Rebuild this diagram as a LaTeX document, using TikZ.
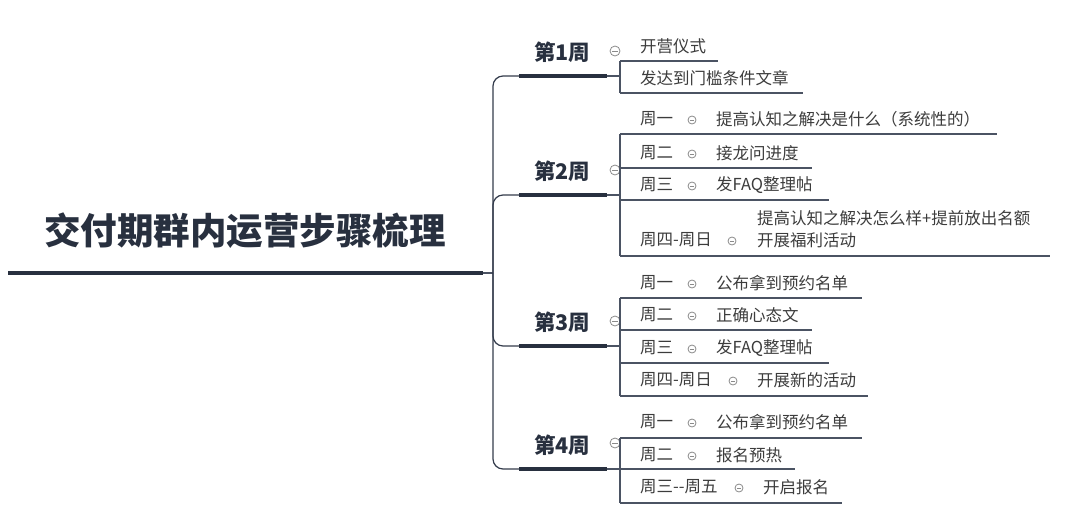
\documentclass[tikz,border=0pt]{standalone}
\usepackage{fontspec}
\newfontfamily\cjk{Noto Sans CJK SC}
\definecolor{navy}{HTML}{28303F}
\definecolor{linec}{HTML}{4B5363}
\definecolor{spinec}{HTML}{343C4C}
\definecolor{txtc}{HTML}{3C3C3C}
\definecolor{btnc}{HTML}{8A8A8A}
\tikzset{
  rootline/.style={line width=4pt, navy},
  weekline/.style={line width=3.3pt, navy},
  conn/.style={line width=1.1pt, linec},
  spine/.style={line width=1.2pt, spinec, rounded corners=10pt},
  rowline/.style={line width=1.1pt, linec},
  roottext/.style={anchor=center, inner sep=0pt, text=navy, font=\cjk\bfseries\fontsize{36.5}{40}\selectfont},
  weektext/.style={anchor=west, inner sep=0pt, text=navy, font=\cjk\bfseries\fontsize{21.5}{26}\selectfont},
  rowtext/.style={anchor=west, inner sep=0pt, text=txtc, font=\cjk\fontsize{16.5}{22}\selectfont},
  btn/.style={circle, draw=btnc, line width=0.8pt, inner sep=0pt, minimum size=#1, fill=white,
    path picture={\draw[btnc, line width=0.8pt] ([xshift=-0.28*#1]path picture bounding box.center) -- ([xshift=0.28*#1]path picture bounding box.center);}},
  btn/.default=8pt
}
\begin{document}
\begin{tikzpicture}[x=1pt,y=-1pt]
\useasboundingbox (0,0) rectangle (1080,525);
% root
\node[roottext] (root) at (245,231) {交付期群内运营步骤梳理};
\coordinate (rootL) at (8,273);
\coordinate (rootR) at (483,273);
\coordinate (hub) at (493,273);
\draw[rootline] (rootL) -- (rootR);
\draw[conn] (rootR) -- (hub);

% weeks
\foreach \i/\y in {1/76,2/195,3/346,4/469}{
  \coordinate (w\i L) at (519,\y);
  \coordinate (w\i R) at (607,\y);
  \coordinate (s\i) at (620,\y);
}
\foreach \i in {1,2,3,4}{
  \draw[spine] (hub) |- (w\i L);
  \draw[weekline] (w\i L) -- (w\i R);
  \draw[conn] (w\i R) -- (s\i);
}
\node[weektext] (t1) at (534,52) {第1周};
\node[weektext] (t2) at (534,171) {第2周};
\node[weektext] (t3) at (534,322) {第3周};
\node[weektext] (t4) at (534,445) {第4周};

% week 1 children
\coordinate (a1L) at (620,61); \coordinate (a1R) at (718,61);
\coordinate (a2L) at (620,93); \coordinate (a2R) at (803,93);
\draw[rowline] (a1L) -- (a1R);
\draw[rowline] (a2L) -- (a2R);
\draw[rowline] (a1L) -- (a2L);
\node[rowtext] (a1) at (640,46) {开营仪式};
\node[rowtext] (a2) at (640,78) {发达到门槛条件文章};
\node[btn=10pt] (b1) at (615,51) {};

% week 2 children
\coordinate (c1L) at (620,134); \coordinate (c1R) at (997,134);
\coordinate (c2L) at (620,168); \coordinate (c2R) at (812,168);
\coordinate (c3L) at (620,200); \coordinate (c3R) at (829,200);
\coordinate (c4L) at (620,256); \coordinate (c4R) at (1050,256);
\node[btn=10pt] (b2) at (615,170) {};
\draw[rowline] (c1L) -- (c1R);
\draw[rowline] (c2L) -- (c2R);
\draw[rowline] (c3L) -- (c3R);
\draw[rowline] (c4L) -- (c4R);
\draw[rowline] (c1L) -- (c4L);
\node[rowtext] (c1a) at (640,119) {周一};
\node[btn] (c1b) at (692,120) {};
\node[rowtext] (c1c) at (716,119) {提高认知之解决是什么（系统性的）};
\node[rowtext] (c2a) at (640,153) {周二};
\node[btn] (c2b) at (692,154) {};
\node[rowtext] (c2c) at (716,153) {接龙问进度};
\node[rowtext] (c3a) at (640,185) {周三};
\node[btn] (c3b) at (692,186) {};
\node[rowtext] (c3c) at (716,185) {发FAQ整理帖};
\node[rowtext] (c4a) at (640,240) {周四-周日};
\node[btn] (c4b) at (732,241) {};
\node[rowtext, align=left] (c4c) at (757,229) {提高认知之解决怎么样+提前放出名额\\开展福利活动};

% week 3 children
\coordinate (d1L) at (620,298); \coordinate (d1R) at (862,298);
\coordinate (d2L) at (620,330); \coordinate (d2R) at (812,330);
\coordinate (d3L) at (620,363); \coordinate (d3R) at (829,363);
\coordinate (d4L) at (620,396); \coordinate (d4R) at (868,396);
\node[btn=10pt] (b3) at (615,321) {};
\draw[rowline] (d1L) -- (d1R);
\draw[rowline] (d2L) -- (d2R);
\draw[rowline] (d3L) -- (d3R);
\draw[rowline] (d4L) -- (d4R);
\draw[rowline] (d1L) -- (d4L);
\node[rowtext] (d1a) at (640,283) {周一};
\node[btn] (d1b) at (692,284) {};
\node[rowtext] (d1c) at (716,283) {公布拿到预约名单};
\node[rowtext] (d2a) at (640,315) {周二};
\node[btn] (d2b) at (692,316) {};
\node[rowtext] (d2c) at (716,315) {正确心态文};
\node[rowtext] (d3a) at (640,348) {周三};
\node[btn] (d3b) at (692,349) {};
\node[rowtext] (d3c) at (716,348) {发FAQ整理帖};
\node[rowtext] (d4a) at (640,380) {周四-周日};
\node[btn] (d4b) at (733,381) {};
\node[rowtext] (d4c) at (757,380) {开展新的活动};

% week 4 children
\coordinate (e1L) at (620,438); \coordinate (e1R) at (862,438);
\coordinate (e2L) at (620,469); \coordinate (e2R) at (795,469);
\coordinate (e3L) at (620,503); \coordinate (e3R) at (842,503);
\node[btn=10pt] (b4) at (615,443) {};
\draw[rowline] (e1L) -- (e1R);
\draw[rowline] (e2L) -- (e2R);
\draw[rowline] (e3L) -- (e3R);
\draw[rowline] (e1L) -- (e3L);
\node[rowtext] (e1a) at (640,422) {周一};
\node[btn] (e1b) at (692,423) {};
\node[rowtext] (e1c) at (716,422) {公布拿到预约名单};
\node[rowtext] (e2a) at (640,455) {周二};
\node[btn] (e2b) at (692,456) {};
\node[rowtext] (e2c) at (716,455) {报名预热};
\node[rowtext] (e3a) at (640,487) {周三--周五};
\node[btn] (e3b) at (739,488) {};
\node[rowtext] (e3c) at (763,487) {开启报名};
\end{tikzpicture}
\end{document}
